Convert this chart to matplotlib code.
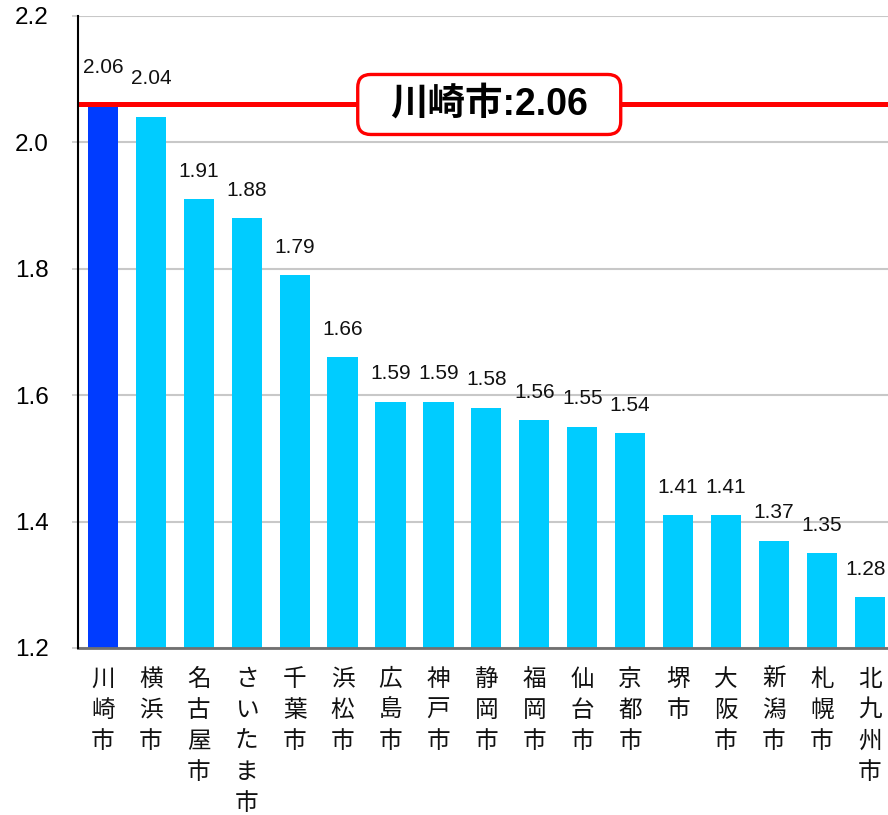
import matplotlib
matplotlib.use("Agg")
import matplotlib.pyplot as plt
import matplotlib.transforms as mtrans
from matplotlib.patches import FancyBboxPatch

plt.rcParams['font.family'] = ['Liberation Sans', 'Noto Sans CJK JP', 'DejaVu Sans']

cities = ["川崎市", "横浜市", "名古屋市", "さいたま市", "千葉市", "浜松市", "広島市", "神戸市",
          "静岡市", "福岡市", "仙台市", "京都市", "堺市", "大阪市", "新潟市", "札幌市", "北九州市"]
values = [2.06, 2.04, 1.91, 1.88, 1.79, 1.66, 1.59, 1.59,
          1.58, 1.56, 1.55, 1.54, 1.41, 1.41, 1.37, 1.35, 1.28]
highlight_city = "川崎市"
reference_value = 2.06
y_ticks = [1.2, 1.4, 1.6, 1.8, 2.0, 2.2]

W, H, DPI = 888, 815, 100
fig = plt.figure(figsize=(W / DPI, H / DPI), dpi=DPI)
ax = fig.add_axes([78 / W, 1 - 648 / H, 1 - 78 / W, (648 - 16) / H])

x = list(range(len(cities)))
colors = ["#003CFF" if c == highlight_city else "#00CCFF" for c in cities]
ax.bar(x, values, width=0.63, color=colors, zorder=2)

ax.set_ylim(1.2, 2.2)
ax.set_xlim(-0.52, 16.38)
ax.set_yticks(y_ticks)
ax.set_yticklabels([f"{t:.1f}" for t in y_ticks], fontsize=17.5)
ax.set_xticks([])
ax.yaxis.grid(True, color="#C8C8C8", linewidth=1.5, zorder=0)
ax.tick_params(axis="y", length=4, width=1.2, color="#C8C8C8", pad=17)

for s in ["top", "right"]:
    ax.spines[s].set_visible(False)
ax.spines["left"].set_color("black")
ax.spines["left"].set_linewidth(1.5)
ax.spines["left"].set_zorder(4)
ax.spines["bottom"].set_color("#707070")
ax.spines["bottom"].set_linewidth(2)

# value labels above each bar (first two lifted clear of the reference line,
# the last one nudged in from the right edge)
extra_lift = {0: 9, 1: 11}
nudge_x = {len(values) - 1: -3}
for i, v in enumerate(values):
    off = (28 + extra_lift.get(i, 0)) * 0.72
    ax.annotate(f"{v:.2f}", (i, v), xytext=(nudge_x.get(i, 0), off), textcoords="offset points",
                ha="center", va="center", fontsize=15, color="#111111",
                annotation_clip=False, zorder=5)

# vertical city names below the axis
below = mtrans.offset_copy(ax.transData, fig=fig, x=0, y=-20, units="dots")
for i, c in enumerate(cities):
    ax.text(i, 1.2, "\n".join(c), transform=below, ha="center", va="top",
            fontsize=17, family=["Noto Sans CJK JP"], linespacing=1.45,
            color="#111111", clip_on=False)

# reference line with callout box
ax.axhline(reference_value, color="#FF0000", linewidth=3.6, zorder=3)

cx_data = 8.06
fig.canvas.draw()
cx, cy = ax.transData.transform((cx_data, reference_value))
bw, bh = 263, 60
box = FancyBboxPatch(((cx - bw / 2) / DPI, (cy - bh / 2) / DPI), bw / DPI, bh / DPI,
                     boxstyle="round,pad=0,rounding_size=0.13",
                     transform=fig.dpi_scale_trans, facecolor="white",
                     edgecolor="#FF0000", linewidth=2.4, zorder=6)
fig.add_artist(box)
fig.text(cx / W, cy / H, f"{highlight_city}:{reference_value:.2f}", ha="center", va="center",
         fontsize=27, fontweight="bold", family=["Liberation Sans", "Noto Sans CJK JP"],
         color="black", zorder=7)

fig.savefig("out.png", dpi=DPI)
